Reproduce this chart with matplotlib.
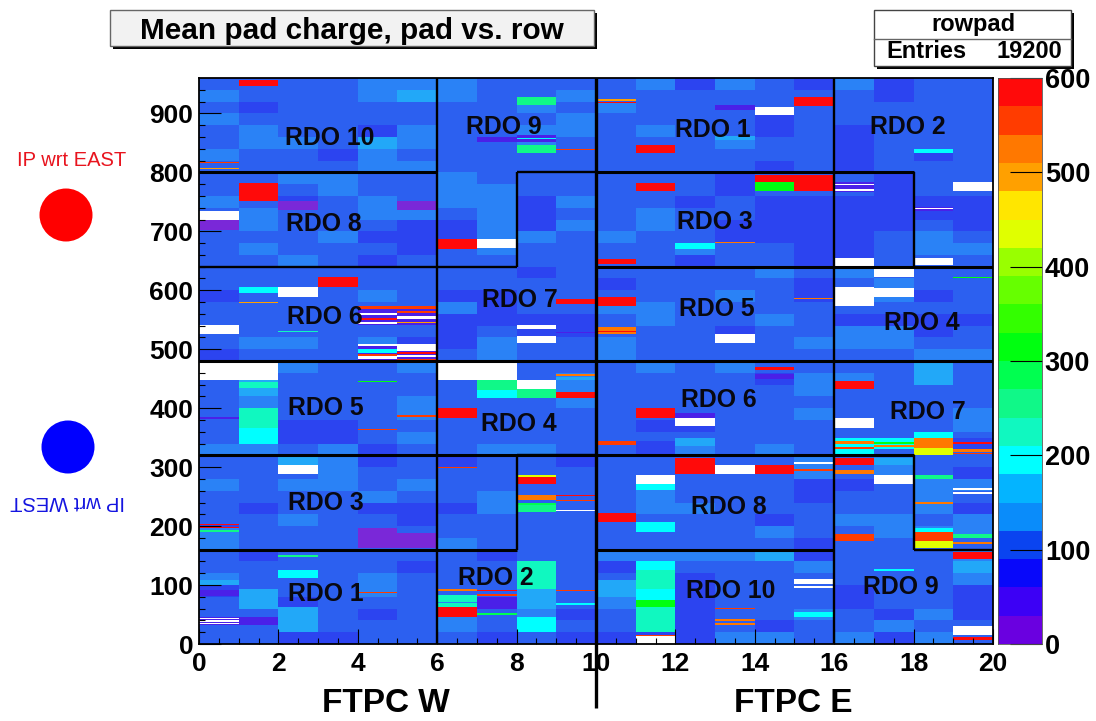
import matplotlib
matplotlib.use('Agg')
import matplotlib.pyplot as plt
from matplotlib.colors import ListedColormap, BoundaryNorm
from matplotlib.patches import Rectangle, Circle
import numpy as np

plt.rcParams['font.family'] = ['Liberation Sans', 'DejaVu Sans']

# mean charge read by eye, one row per 20 pad rows, top (960) to bottom (0)
BLOCKS = [
    [100,100,100,100,135,135,135,100,100,100,100,135,70,135,100,70,135,70,100,100],
    [135,100,100,100,135,165,135,100,100,135,100,100,100,100,100,100,100,70,100,100],
    [100,70,100,100,100,100,100,100,135,100,135,100,100,100,100,100,100,100,100,100],
    [135,100,100,100,100,100,100,100,100,135,100,100,100,100,70,100,100,100,100,100],
    [100,135,100,100,70,135,100,100,135,135,100,135,100,100,70,100,70,100,100,100],
    [100,135,135,100,165,135,100,100,135,100,100,100,100,135,100,100,70,100,100,100],
    [135,100,100,70,135,100,100,100,100,100,100,100,100,100,100,100,70,100,70,100],
    [100,100,100,100,135,135,100,100,100,100,100,100,100,100,70,100,70,100,100,100],
    [100,100,135,135,100,100,135,100,100,100,100,100,100,70,100,100,100,70,100,100],
    [100,100,100,135,100,100,135,135,100,100,100,100,100,70,100,100,100,70,100,100],
    [135,100,70,100,135,100,135,135,70,135,100,100,70,100,70,70,70,70,70,70],
    [100,135,100,100,135,135,100,135,70,100,100,135,100,100,70,70,70,70,70,70],
    [100,135,100,100,100,70,70,135,70,135,100,135,100,70,70,70,70,70,100,70],
    [100,100,100,135,70,70,70,135,135,100,135,100,100,70,70,70,70,100,135,100],
    [100,135,100,100,100,70,100,135,100,100,100,100,135,100,100,70,70,100,135,135],
    [100,100,135,100,70,100,100,100,100,100,100,100,70,100,100,70,70,100,100,100],
    [100,100,100,100,100,100,100,100,70,100,100,100,100,100,135,100,135,100,100,100],
    [100,100,100,100,100,100,100,100,100,100,70,100,100,100,100,70,100,135,100,100],
    [70,100,100,100,135,100,70,70,100,100,100,100,100,135,100,70,100,135,70,100],
    [100,100,100,100,100,100,135,70,100,100,135,135,100,100,100,100,100,100,100,100],
    [100,100,100,100,100,100,70,70,70,70,100,135,100,100,135,100,70,70,70,70],
    [100,100,100,100,100,100,70,100,70,70,100,100,100,70,100,100,135,135,70,100],
    [100,135,135,100,135,70,70,135,100,100,135,100,100,100,100,135,135,135,100,100],
    [70,100,100,100,100,70,100,135,100,100,135,100,100,100,100,100,100,100,135,135],
    [100,100,135,100,100,135,100,100,100,100,100,135,100,135,100,100,100,100,170,100],
    [100,165,100,100,100,100,100,100,100,135,100,100,100,100,70,135,135,100,175,100],
    [100,165,100,100,100,100,100,100,100,135,100,100,100,100,100,135,100,100,100,100],
    [100,135,100,100,100,135,100,100,100,135,100,100,100,100,100,100,100,100,100,100],
    [100,235,100,100,100,135,100,100,100,100,100,100,100,100,100,135,100,100,100,135],
    [100,235,70,70,100,100,100,100,100,100,100,70,70,100,100,100,100,100,100,135],
    [100,190,70,70,100,135,100,100,100,100,100,100,100,100,100,100,100,100,100,100],
    [135,135,100,135,70,100,100,135,135,100,100,70,135,100,135,100,100,100,100,100],
    [100,100,165,135,70,100,70,100,100,70,100,100,100,100,100,135,100,135,100,100],
    [100,100,100,135,100,100,100,100,100,100,100,100,100,100,100,135,100,135,100,70],
    [135,100,135,135,100,135,100,100,100,100,100,135,100,100,100,70,70,100,135,135],
    [100,100,100,100,135,100,100,135,100,100,100,135,100,100,100,70,100,100,135,100],
    [100,70,100,100,70,70,70,135,100,100,100,135,135,100,100,100,100,100,135,70],
    [100,100,135,100,100,70,100,100,100,100,100,100,100,100,70,100,135,135,100,135],
    [135,100,100,100,100,100,100,100,100,100,100,100,100,100,135,100,100,135,135,135],
    [135,100,100,100,100,100,135,100,100,100,100,100,100,100,100,70,100,100,100,100],
    [100,70,100,100,100,100,100,70,100,100,135,135,135,135,165,70,100,100,100,135],
    [100,100,100,100,100,70,100,100,225,100,70,190,100,100,100,135,100,100,100,165],
    [135,100,100,100,135,100,100,100,225,100,100,190,70,100,100,100,100,100,100,135],
    [70,100,100,100,135,100,100,100,225,100,165,195,70,100,100,100,70,100,100,70],
    [100,165,70,100,100,100,225,100,150,100,135,310,70,100,100,100,70,100,100,70],
    [100,100,175,100,70,100,135,100,135,70,100,230,70,100,100,135,100,70,135,70],
    [100,100,175,100,100,100,135,100,205,100,100,230,70,100,70,100,100,135,100,100],
    [100,100,70,70,100,100,100,70,100,70,70,70,70,135,135,100,135,70,135,100],
]

# hot and dead channels: pad, first row, last row, charge
STREAKS = [
    (1,946,957,590),(0,815,817,560),(0,805,808,500),
    (8,914,927,240),(7,852,860,30),(8,852,863,35),(8,856,858,200),(8,832,846,250),(9,838,840,560),
    (1,751,782,590),(0,720,735,700),(0,702,719,20),(2,736,751,25),(5,736,751,25),
    (6,670,687,590),(7,671,687,700),
    (3,605,622,590),(1,595,605,190),(2,589,605,700),(0,526,541,700),
    (1,578,580,500),(2,529,531,210),
    (4,541,573,35),(5,541,573,35),(4,569,573,560),(5,569,573,540),(4,558,561,700),(5,552,557,700),
    (4,550,553,580),(5,562,565,560),(4,543,546,700),(5,544,546,500),
    (4,480,508,35),(5,480,508,35),(4,505,508,700),(5,497,508,700),(4,494,500,200),
    (4,483,488,700),(5,486,491,700),(4,489,492,560),(5,492,495,580),(5,481,484,560),
    (9,576,585,590),(8,535,541,700),(8,511,523,700),(9,528,530,30),
    (0,448,476,700),(1,448,476,700),(6,448,476,700),(7,448,476,700),
    (1,434,445,215),(7,431,448,250),(7,417,431,195),(8,432,448,700),(8,417,432,250),
    (9,454,458,520),(9,448,453,170),(9,417,428,590),(1,366,400,235),(1,354,366,190),
    (6,383,400,590),(0,382,385,30),(4,363,365,560),(4,444,446,300),(5,385,388,540),
    (2,288,303,700),(8,271,287,570),(8,284,287,440),(8,276,279,590),
    (8,224,236,250),(8,236,240,290),(8,244,252,520),(9,251,253,570),(9,242,244,560),(9,225,227,640),
    (0,196,204,590),(0,190,193,250),(0,199,201,70),(6,299,301,560),
    (4,162,196,22),(5,162,188,22),(2,148,151,260),
    (2,112,125,205),(0,100,108,150),(1,78,94,165),(0,82,92,50),(4,86,88,560),
    (0,32,46,35),(0,34,36,700),(0,38,40,700),(0,42,44,700),(1,32,46,35),(2,32,63,175),
    (6,90,93,510),(7,90,92,570),(9,90,92,540),(6,63,83,225),(6,46,63,590),(6,70,72,130),
    (7,60,80,35),(7,50,52,270),(7,82,85,560),(8,94,125,225),(8,63,94,150),(8,31,46,205),(9,66,70,205),
    # east side, top half
    (10,917,919,590),(10,921,925,500),(15,913,927,590),(14,897,911,700),(13,905,914,30),
    (11,833,846,590),(18,833,839,190),(13,854,861,165),
    (11,768,782,590),(14,783,796,590),(14,768,783,320),(15,768,796,590),
    (16,766,783,35),(16,778,780,700),(16,769,772,700),(19,768,783,700),(18,735,742,35),(18,738,740,700),
    (12,670,680,190),(13,680,682,520),(10,644,653,590),(16,640,654,700),(17,623,638,700),(18,643,654,700),
    (10,574,588,590),(16,574,605,700),(17,589,603,700),(15,585,587,520),
    (10,526,538,520),(10,529,531,570),(13,511,525,700),(19,620,622,300),
    # east side, bottom half
    (14,464,470,580),(14,450,458,40),(16,432,446,590),(11,383,400,590),(12,369,383,700),(12,383,392,50),
    (16,367,383,700),(10,337,345,560),(11,337,345,60),(12,335,350,165),
    (16,322,350,200),(16,340,345,520),(16,330,334,540),(17,330,350,200),(17,340,343,300),(17,334,337,520),
    (18,350,360,190),(18,332,349,530),(18,320,332,430),(19,330,350,70),(19,340,343,570),(19,326,330,520),(19,322,324,560),
    (12,288,315,590),(13,288,303,700),(14,288,303,570),(15,305,309,700),(15,293,296,540),
    (11,271,287,700),(11,261,271,190),(16,303,316,590),(16,288,295,520),(17,303,316,150),(17,272,286,700),
    (18,280,286,250),(19,255,258,700),(19,262,265,700),(18,238,241,520),
    (10,207,223,590),(11,190,207,205),(16,175,186,560),
    (18,174,190,540),(18,162,174,440),(18,190,197,190),(19,179,187,265),(19,170,173,520),(19,144,156,590),
    (11,94,126,215),(11,74,94,190),(11,63,74,310),(11,31,63,230),(11,0,13,700),(11,13,15,560),
    (10,100,108,175),(15,95,98,700),(15,102,110,700),(15,46,54,190),
    (13,59,61,540),(13,32,46,520),(13,36,39,100),(13,42,45,100),(19,15,30,700),(19,6,12,570),(17,123,127,200),
]

PAD_EDGES = np.arange(0, 21)
ROW_EDGES = np.arange(0, 961)
Z_LEVELS = np.arange(0, 601, 30)
PALETTE = ['#6a00e0', '#3c00f5', '#0808fa', '#0a44f0', '#0a8cfa', '#04b4ff', '#00ffff',
           '#10f8c0', '#10f888', '#00ff50', '#00ff10', '#33ff00', '#66ff00', '#99ff00',
           '#e0ff00', '#ffe600', '#ffa000', '#ff7800', '#ff3c00', '#ff0a0a']
# the blue bins look washed out in the map itself, the scan blurs them together
MAP_BLUES = ['#7a28d8', '#4a20e8', '#2c44f0', '#2c60f0', '#2a82f6', '#22a8f8']
Y_TICKS = [0, 100, 200, 300, 400, 500, 600, 700, 800, 900]
X_TICKS = [0, 2, 4, 6, 8, 10, 12, 14, 16, 18, 20]
Z_TICKS = [0, 100, 200, 300, 400, 500, 600]
RDO_LABELS = [
    ('RDO 10', 3.3, 858), ('RDO 9', 7.68, 877), ('RDO 1', 12.95, 872), ('RDO 2', 17.86, 877),
    ('RDO 8', 3.15, 712), ('RDO 3', 13.0, 716), ('RDO 7', 8.09, 583), ('RDO 6', 3.17, 555),
    ('RDO 5', 13.05, 568), ('RDO 4', 18.2, 544), ('RDO 5', 3.2, 400), ('RDO 4', 8.06, 373),
    ('RDO 6', 13.1, 414), ('RDO 7', 18.36, 394), ('RDO 3', 3.2, 239), ('RDO 8', 13.35, 232),
    ('RDO 1', 3.2, 85), ('RDO 2', 7.48, 112), ('RDO 10', 13.4, 90), ('RDO 9', 17.68, 97),
]

W, H = 1096, 721
fig = plt.figure(figsize=(W / 100, H / 100), dpi=100, facecolor='white')


def px_axes(x0, y0, x1, y1, **kw):
    return fig.add_axes([x0 / W, 1 - y1 / H, (x1 - x0) / W, (y1 - y0) / H], **kw)


# build the full row-by-row table from the blocks and the streaks
charge = np.repeat(np.array(BLOCKS)[::-1], 20, axis=0).astype(float)
for pad, first, last, value in STREAKS:
    charge[first:last, pad] = value

cmap = ListedColormap(PALETTE)
map_cmap = ListedColormap(MAP_BLUES + PALETTE[6:])
map_cmap.set_over('white')
norm = BoundaryNorm(Z_LEVELS, cmap.N)

ax = px_axes(199, 78, 993, 644)
ax.pcolormesh(PAD_EDGES, ROW_EDGES, charge, cmap=map_cmap, norm=norm, antialiased=False)
ax.set_xlim(0, 20)
ax.set_ylim(0, 960)
ax.set_xticks(X_TICKS)
ax.set_yticks(Y_TICKS)
ax.set_xticks(np.arange(0, 20.01, 0.5), minor=True)
ax.set_yticks(np.arange(0, 960, 20), minor=True)
ax.tick_params(which='major', direction='in', length=11, width=0.8, labelsize=19)
ax.tick_params(which='minor', direction='in', length=4, width=0.8)
ax.tick_params(axis='x', which='major', pad=6)
ax.tick_params(axis='y', which='major', length=16, pad=4)
for lab in ax.get_xticklabels() + ax.get_yticklabels():
    lab.set_fontweight('bold')
for s in ax.spines.values():
    s.set_linewidth(1.3)

# RDO boundaries
thick = [([0, 6], [800, 800]), ([0, 20], [480, 480]), ([0, 8], [160, 160]), ([10, 16], [160, 160]),
         ([10, 18], [800, 800]), ([10, 20], [640, 640]), ([0, 10], [320, 320]), ([10, 18], [320, 320])]
thin = [([6, 6], [0, 960]), ([16, 16], [0, 960]), ([0, 8], [640, 640]), ([8, 8], [640, 800]),
        ([8, 10], [800, 800]), ([18, 18], [640, 800]), ([8, 8], [160, 320]), ([8, 10], [320, 320]),
        ([18, 18], [160, 320]), ([18, 20], [160, 160])]
for xs, ys in thick:
    ax.plot(xs, ys, color='black', lw=2.2, solid_capstyle='butt')
for xs, ys in thin:
    ax.plot(xs, ys, color='black', lw=1.7, solid_capstyle='butt')

for name, x, y in RDO_LABELS:
    ax.text(x, y, name, ha='center', va='center', fontsize=17.8, fontweight='bold', color='#080810')

# palette bar
cax = px_axes(998, 78, 1042, 644)
cax.pcolormesh([0, 1], Z_LEVELS, np.arange(20).reshape(-1, 1) * 30 + 15, cmap=cmap, norm=norm)
cax.set_xticks([])
cax.yaxis.tick_right()
cax.set_yticks(Z_TICKS)
cax.set_ylim(0, 600)
cax.tick_params(axis='y', direction='in', length=23, width=0.8, labelsize=19.5, pad=2)
for lab in cax.get_yticklabels():
    lab.set_fontweight('bold')
for s in cax.spines.values():
    s.set_linewidth(0.6)
    s.set_color('#555555')

# everything else lives in picture coordinates
deco = fig.add_axes([0, 0, 1, 1], zorder=5)
deco.set_xlim(0, W)
deco.set_ylim(H, 0)
deco.axis('off')
deco.patch.set_alpha(0)

deco.add_patch(Rectangle((113, 13), 484, 36, fc='black', ec='none'))
deco.add_patch(Rectangle((110, 10), 484, 36, fc='#f2f2f2', ec='#666666', lw=1))
deco.text(352, 31, 'Mean pad charge, pad vs. row', ha='center', va='center',
          fontsize=21.4, fontweight='bold', color='black')

deco.add_patch(Rectangle((877, 13), 197, 56, fc='black', ec='none'))
deco.add_patch(Rectangle((874, 10), 197, 56, fc='white', ec='#444444', lw=1))
deco.plot([874, 1071], [39, 39], color='#666666', lw=1)
deco.text(973, 25, 'rowpad', ha='center', va='center', fontsize=17, fontweight='bold')
deco.text(886, 52, 'Entries', ha='left', va='center', fontsize=17, fontweight='bold')
deco.text(1062, 52, '19200', ha='right', va='center', fontsize=17, fontweight='bold')

deco.add_patch(Circle((66, 215), 26.5, fc='#ff0000', ec='none'))
deco.add_patch(Circle((68, 447), 26.5, fc='#0000ff', ec='none'))
deco.text(72, 161, 'IP wrt EAST', ha='center', va='center', fontsize=14.5, color='#e8141e')
deco.text(68, 502, 'IP wrt WEST', ha='center', va='center', fontsize=14.5, color='#1414e0', rotation=180)

deco.text(386, 703, 'FTPC W', ha='center', va='center', fontsize=24, fontweight='bold')
deco.text(793, 703, 'FTPC E', ha='center', va='center', fontsize=24, fontweight='bold')
deco.plot([596, 596], [78, 708], color='black', lw=2.4, solid_capstyle='butt')

fig.savefig('out.png', dpi=100)
